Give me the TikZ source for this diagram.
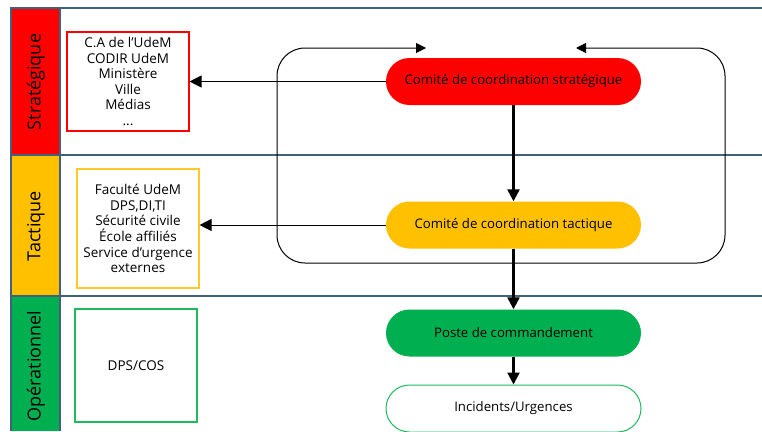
\documentclass[tikz,border=0pt]{standalone}
\usepackage{fontspec}
\setmainfont{Open Sans}
\usetikzlibrary{arrows.meta,shapes.misc}
\definecolor{lanecol}{HTML}{41607A}
\definecolor{sred}{HTML}{FF0000}
\definecolor{torange}{HTML}{FFC000}
\definecolor{ogreen}{HTML}{00B050}
\definecolor{ybord}{HTML}{FFCA28}
\definecolor{gbord}{HTML}{1DBA5E}
\begin{document}
\begin{tikzpicture}[x=1pt,y=-1pt,
  boxtext/.style={font=\fontsize{13.5}{15.6}\selectfont, align=center},
  sidebox/.style={boxtext, draw, line width=1.1pt, minimum width=122pt, inner sep=0pt},
  pill/.style={rounded rectangle, minimum width=255pt, minimum height=47pt, font=\fontsize{13.2}{15}\selectfont, inner sep=0pt},
  lanelbl/.style={rotate=90, font=\fontsize{18}{20}\selectfont},
  thinarrow/.style={line width=1pt, -{Triangle[length=12pt,width=12pt]}},
  thickarrow/.style={line width=2.3pt, -{Triangle[length=12pt,width=12pt]}},
  loopline/.style={line width=1pt, rounded corners=28pt, {Triangle[length=10pt,width=10pt]}-{Triangle[length=10pt,width=10pt]}},
  laneline/.style={draw=lanecol, line width=1.1pt}
]
\clip (0,0) rectangle (762,431);
\fill[white] (0,0) rectangle (762,431);
% bands
\fill[sred] (11,8) rectangle (60,155);
\fill[torange] (11,155) rectangle (60,296);
\fill[ogreen] (11,296) rectangle (60,431);
\draw[laneline] (762,8) -- (11,8) -- (11,431);
\draw[laneline] (60,8) -- (60,431);
\draw[laneline] (11,155) -- (762,155);
\draw[laneline] (11,296) -- (762,296);
% lane labels
\node[lanelbl] (lblS) at (36,82) {Stratégique};
\node[lanelbl] (lblT) at (36,226) {Tactique};
\node[lanelbl] (lblO) at (36,366) {Opérationnel};
% side boxes
\node[sidebox, draw=sred, minimum height=99pt] (bS) at (128,81.5)
  {C.A de l’UdeM\\CODIR UdeM\\Ministère\\Ville\\Médias\\...};
\node[sidebox, draw=ybord, minimum height=119pt] (bT) at (138,228.5)
  {Faculté UdeM\\DPS,DI,TI\\Sécurité civile\\École affiliés\\Service d’urgence\\externes};
\node[sidebox, draw=gbord, minimum height=113pt] (bO) at (136,365.5) {DPS/COS};
% pills
\node[pill, fill=sred] (pS) at (513.5,81.5) {Comité de coordination stratégique};
\node[pill, fill=torange] (pT) at (513.5,225) {Comité de coordination tactique};
\node[pill, fill=ogreen] (pO) at (513.5,333) {Poste de commandement};
\node[pill, draw=gbord, line width=1pt, fill=white] (pI) at (513.5,408.5) {Incidents/Urgences};
% loop
\coordinate (lt) at (426,48);
\coordinate (rt) at (576,48);
\draw[loopline] (lt) -- (277,48) -- (277,263) -- (725,263) -- (725,48) -- (rt);
% connectors
\draw[thinarrow] (pS.west) -- (pS.west -| bS.east);
\draw[thinarrow] (pT.west) -- (pT.west -| bT.east);
\draw[thickarrow] (pS.south) -- (pT.north);
\draw[thickarrow] (pT.south) -- (pO.north);
\draw[thickarrow] (pO.south) -- (pI.north);
\end{tikzpicture}
\end{document}
